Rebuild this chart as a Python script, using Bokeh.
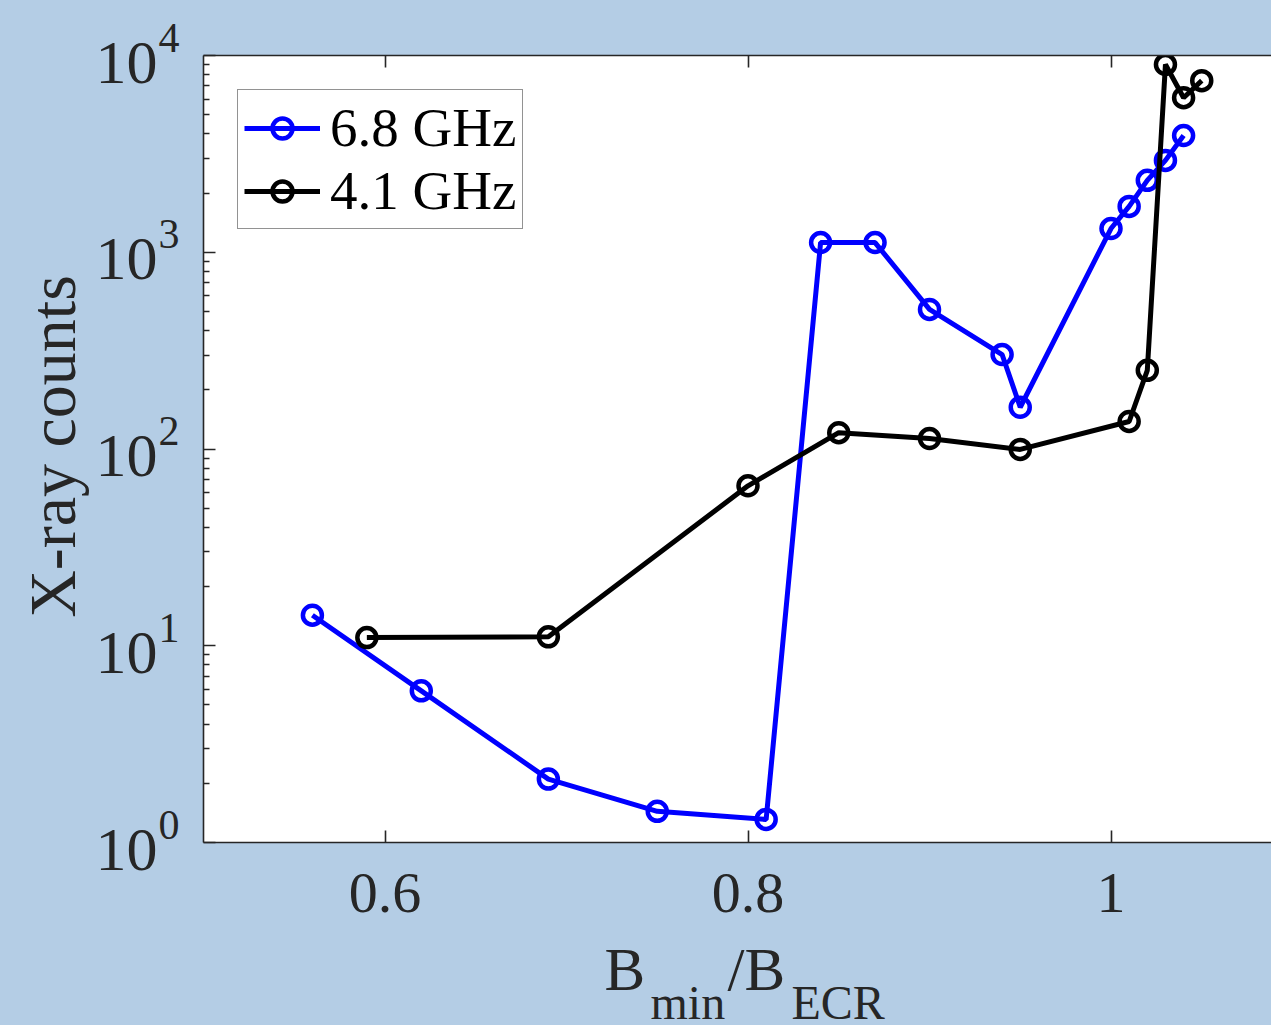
import math
from bokeh.plotting import figure
from bokeh.layouts import row, column
from bokeh.models import (Range1d, FixedTicker, LinearAxis, LogAxis, Label, Legend, LegendItem,
                          CustomJSTickFormatter)
from bokeh.embed import file_html
from bokeh.resources import INLINE

# ---- data ----
x_68 = [0.56, 0.62, 0.69, 0.75, 0.81, 0.84, 0.87, 0.90, 0.94, 0.95, 1.00, 1.01, 1.02, 1.03, 1.04]
y_68 = [14.3, 5.9, 2.1, 1.44, 1.31, 1120, 1120, 512, 302, 163, 1320, 1710, 2320, 2930, 3920]

x_41 = [0.59, 0.69, 0.80, 0.85, 0.90, 0.95, 1.01, 1.02, 1.03, 1.04, 1.05]
y_41 = [11.0, 11.1, 65, 121, 113, 99.5, 138, 251, 9000, 6100, 7450]

x_ticks = [0.6, 0.8, 1.0]
y_ticks = [1, 10, 100, 1000, 10000]
y_exponents = ["0", "1", "2", "3", "4"]
y_minor = [m * 10 ** d for d in range(4) for m in range(2, 10)]

label_68 = "6.8 GHz"
label_41 = "4.1 GHz"
y_title = "X-ray counts"

FONT = "Liberation Serif"
TXT = "#262626"
BG = "#b4cde5"

# ---- geometry ----
W, H = 1271, 1025
LEFT_W = 188
TOP_H = 930
BORDER_T, BORDER_B, BORDER_L = 55, 88, 15
frame_w = W - LEFT_W - BORDER_L
frame_h = TOP_H - BORDER_T - BORDER_B
X0 = 0.5
PX_PER_UNIT = 1815.0
X1 = X0 + frame_w / PX_PER_UNIT
dec = frame_h / 4.0

# ---- main plot ----
p = figure(width=W - LEFT_W, height=TOP_H, output_backend="svg", toolbar_location=None,
           y_axis_type="log", x_range=Range1d(X0, X1), y_range=Range1d(1, 1e4),
           min_border_left=BORDER_L, min_border_right=0, min_border_top=BORDER_T,
           min_border_bottom=BORDER_B, x_axis_location=None, y_axis_location=None)
p.border_fill_color = BG
p.background_fill_color = "white"
p.outline_line_color = None
p.grid.visible = False
p.frame_align = False

empty = CustomJSTickFormatter(code="return ''")
xax = LinearAxis(ticker=FixedTicker(ticks=x_ticks),
                 formatter=CustomJSTickFormatter(code="return tick.toFixed(1).replace('.0','')"))
yax = LogAxis(ticker=FixedTicker(ticks=y_ticks, minor_ticks=y_minor), formatter=empty)
tax = LinearAxis(ticker=FixedTicker(ticks=x_ticks), formatter=empty)
for ax in (xax, yax, tax):
    ax.axis_line_color = TXT
    ax.axis_line_width = 1.6
    ax.major_tick_line_color = TXT
    ax.minor_tick_line_color = TXT
    ax.major_tick_line_width = 1.6
    ax.minor_tick_line_width = 1.4
    ax.major_tick_in = 12
    ax.major_tick_out = 0
    ax.minor_tick_in = 6
    ax.minor_tick_out = 0
    ax.major_label_standoff = 0
xax.major_label_text_font = FONT
xax.major_label_text_font_size = "58px"
xax.major_label_text_color = TXT
xax.major_label_standoff = 31
p.add_layout(xax, "below")
p.add_layout(yax, "left")
p.add_layout(tax, "above")

r68l = p.line(x_68, y_68, line_color="#0000ff", line_width=5)
r68m = p.scatter(x_68, y_68, marker="circle", size=19, fill_color=None,
                 line_color="#0000ff", line_width=4.5)
r41l = p.line(x_41, y_41, line_color="black", line_width=5)
r41m = p.scatter(x_41, y_41, marker="circle", size=19, fill_color=None,
                 line_color="black", line_width=4.5)

legend = Legend(items=[LegendItem(label=label_68, renderers=[r68l, r68m]),
                       LegendItem(label=label_41, renderers=[r41l, r41m])],
                location="top_left", orientation="vertical")
legend.margin = 34
legend.label_text_font = FONT
legend.label_text_font_size = "55px"
legend.label_text_color = "black"
legend.glyph_width = 76
legend.glyph_height = 50
legend.label_height = 50
legend.label_standoff = 10
legend.padding = 6
legend.spacing = 0
legend.border_line_color = TXT
legend.border_line_width = 1.2
legend.background_fill_color = "white"
legend.background_fill_alpha = 1
p.add_layout(legend, "center")

# ---- left panel: y tick labels (10^k) and y title, same log scale as the plot ----
pl = figure(width=LEFT_W, height=TOP_H, output_backend="svg", toolbar_location=None,
            y_axis_type="log", x_range=Range1d(0, 1),
            y_range=Range1d(10 ** (-BORDER_B / dec), 10 ** (4 + BORDER_T / dec)),
            min_border=0, x_axis_location=None, y_axis_location=None)
pl.frame_align = False
pl.border_fill_color = BG
pl.background_fill_color = BG
pl.outline_line_color = None
pl.grid.visible = False
for v, e in zip(y_ticks, y_exponents):
    pl.add_layout(Label(x=157, y=v, x_units="screen", y_units="data", text="10",
                        text_align="right", text_baseline="alphabetic", y_offset=-7,
                        text_font=FONT, text_font_size="62px", text_color=TXT))
    pl.add_layout(Label(x=158, y=v, x_units="screen", y_units="data", text=e,
                        text_align="left", text_baseline="alphabetic", y_offset=18,
                        text_font=FONT, text_font_size="42px", text_color=TXT))
pl.add_layout(Label(x=52, y=TOP_H - 446, x_units="screen", y_units="screen", text=y_title,
                    angle=math.pi / 2, text_align="center", text_baseline="alphabetic",
                    text_font=FONT, text_font_size="66px", text_color=TXT))

# ---- bottom panel: x title B_min/B_ECR ----
pb = figure(width=W, height=H - TOP_H, output_backend="svg", toolbar_location=None,
            x_range=Range1d(0, 1), y_range=Range1d(0, 1),
            min_border=0, x_axis_location=None, y_axis_location=None)
pb.frame_align = False
pb.border_fill_color = BG
pb.background_fill_color = BG
pb.outline_line_color = None
pb.grid.visible = False
for txt, sx, sy, fs in [("B", 604, 56, "61px"), ("min", 650, 23, "48px"),
                        ("/B", 727, 56, "61px"), ("ECR", 791, 23, "48px")]:
    pb.add_layout(Label(x=sx, y=sy, x_units="screen", y_units="screen", text=txt,
                        text_align="left", text_baseline="alphabetic",
                        text_font=FONT, text_font_size=fs, text_color=TXT))

layout = column(row(pl, p, spacing=0, styles={"background-color": BG}), pb, spacing=0,
                styles={"background-color": BG})
open("out.html", "w").write(file_html(layout, INLINE))
